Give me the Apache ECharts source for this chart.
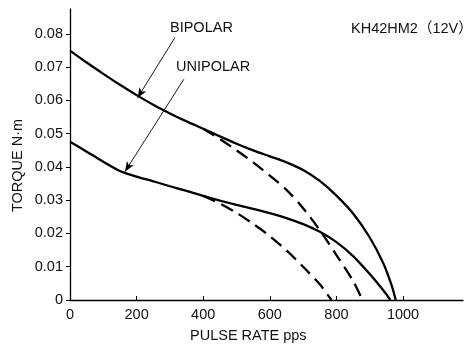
<!DOCTYPE html>
<html><head><meta charset="utf-8">
<script src="https://cdn.jsdelivr.net/npm/echarts@6/dist/echarts.min.js"></script>
<style>html,body{margin:0;padding:0;background:#fff}#c{width:464px;height:346px}</style>
</head><body><div id="c"></div>
<script>
const xTicks = [0, 200, 400, 600, 800, 1000];
const yTicks = [0, 0.01, 0.02, 0.03, 0.04, 0.05, 0.06, 0.07, 0.08];
const bipolarSolid = [[0,0.0750],[50,0.0714],[100,0.0680],[150,0.0647],[200,0.0616],[250,0.0587],[300,0.0561],[350,0.0537],[400,0.0515],[450,0.0492],[500,0.0470],[550,0.0450],[600,0.0432],[650,0.0414],[700,0.0391],[750,0.0358],[800,0.0314],[850,0.0260],[900,0.0188],[940,0.0112],[965,0.0046],[978,0]];
const bipolarDashed = [[400,0.0515],[450,0.0484],[500,0.0450],[550,0.0414],[600,0.0374],[650,0.0331],[700,0.0276],[750,0.0210],[800,0.0135],[850,0.0057],[878,0]];
const unipolarSolid = [[0,0.0476],[50,0.0446],[100,0.0416],[150,0.0388],[200,0.0371],[250,0.0357],[300,0.0342],[350,0.0328],[400,0.0313],[450,0.0299],[500,0.0286],[550,0.0274],[600,0.0261],[650,0.0246],[700,0.0228],[750,0.0205],[800,0.0174],[850,0.0132],[900,0.0078],[940,0.0030],[962,0]];
const unipolarDashed = [[400,0.0313],[450,0.0290],[500,0.0262],[550,0.0229],[600,0.0192],[650,0.0149],[700,0.0100],[750,0.0047],[785,0]];
const bipolarArrow = [[315,0.0789],[203,0.0608]];
const unipolarArrow = [[342,0.0664],[165,0.0386]];
const FONT = '"Liberation Sans", Arial, "Noto Sans CJK JP", sans-serif';
const chart = echarts.init(document.getElementById('c'));
function lineSeries(data, dashed, arrow) {
  const s = {type:'line', data, smooth:0.3, symbol:'none', animation:false,
    lineStyle:{color:'#000', width:2.3, type: dashed ? [13,7] : 'solid'}};
  if (arrow) {
    s.markLine = {silent:true, animation:false, symbol:['none','arrow'], symbolSize:[6,10],
      label:{show:false}, lineStyle:{color:'#000', width:0.9, type:'solid'},
      data:[[{coord:arrow[0]},{coord:arrow[1]}]]};
  }
  return s;
}
chart.setOption({
  animation:false,
  grid:{left:70, top:9, right:1, bottom:46},
  xAxis:{type:'value', min:0, max:1180, interval:200,
    axisLine:{lineStyle:{color:'#000', width:1.3}},
    axisTick:{inside:true, length:4, customValues:xTicks, lineStyle:{color:'#000'}},
    axisLabel:{customValues:xTicks, color:'#111', fontSize:14.5, fontFamily:FONT, margin:8,
      formatter:v => String(v)},
    splitLine:{show:false}},
  yAxis:{type:'value', min:0, max:0.0875, interval:0.01,
    axisLine:{show:true, lineStyle:{color:'#000', width:1.3}},
    axisTick:{show:true, length:4, customValues:yTicks, lineStyle:{color:'#000'}},
    axisLabel:{customValues:yTicks, color:'#111', fontSize:14.5, fontFamily:FONT, margin:7,
      formatter:v => v === 0 ? '0' : v.toFixed(2)},
    splitLine:{show:false}},
  series:[
    lineSeries(bipolarSolid, false, bipolarArrow),
    lineSeries(bipolarDashed, true),
    lineSeries(unipolarSolid, false, unipolarArrow),
    lineSeries(unipolarDashed, true)
  ],
  graphic:[
    {type:'text', left:170, top:21, style:{text:'BIPOLAR', font:'14.5px '+FONT, fill:'#111'}},
    {type:'text', left:176, top:60, style:{text:'UNIPOLAR', font:'14.5px '+FONT, fill:'#111'}},
    {type:'text', left:351, top:22, style:{text:'KH42HM2（12V）', font:'14.5px '+FONT, fill:'#111'}},
    {type:'text', left:190, top:329, style:{text:'PULSE RATE pps', font:'14.5px '+FONT, fill:'#111'}},
    {type:'text', x:11, y:212, rotation:Math.PI/2, style:{text:'TORQUE N·m', font:'14.5px '+FONT, fill:'#111'}}
  ]
});
</script></body></html>
